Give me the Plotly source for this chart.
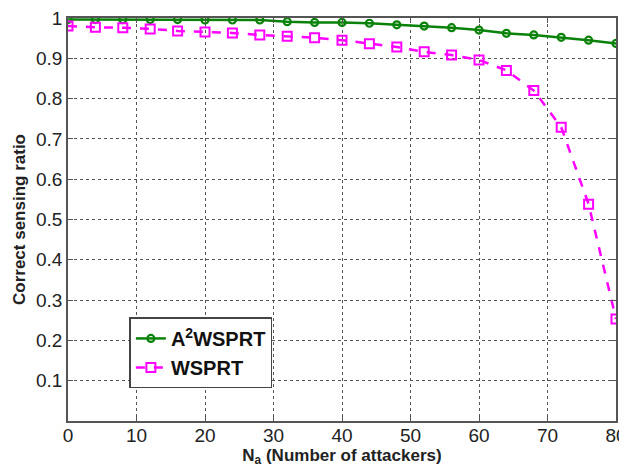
import plotly.graph_objects as go

attackers = [0, 4, 8, 12, 16, 20, 24, 28, 32, 36, 40, 44, 48, 52, 56, 60, 64, 68, 72, 76, 80]
a2wsprt = [0.996, 0.996, 0.996, 0.996, 0.996, 0.995, 0.995, 0.995, 0.991, 0.989, 0.989, 0.987,
           0.983, 0.980, 0.976, 0.970, 0.962, 0.958, 0.952, 0.945, 0.937]
wsprt = [0.980, 0.977, 0.976, 0.973, 0.968, 0.965, 0.963, 0.958, 0.955, 0.951, 0.945, 0.936,
         0.928, 0.916, 0.908, 0.896, 0.870, 0.820, 0.729, 0.538, 0.253]
x_ticks = [0, 10, 20, 30, 40, 50, 60, 70, 80]
y_ticks = [0.1, 0.2, 0.3, 0.4, 0.5, 0.6, 0.7, 0.8, 0.9, 1]
y_ticktext = ["0.1", "0.2", "0.3", "0.4", "0.5", "0.6", "0.7", "0.8", "0.9", "1"]

FONT = "Liberation Sans, Arial, sans-serif"

fig = go.Figure()
fig.add_trace(go.Scatter(
    x=attackers, y=a2wsprt, mode="lines+markers", name="<b>A<sup>2</sup>WSPRT</b>",
    line=dict(color="#0a820a", width=2.5),
    marker=dict(symbol="circle-open", size=7, color="#0a820a", line=dict(width=2.2)),
))
fig.add_trace(go.Scatter(
    x=attackers, y=wsprt, mode="lines+markers", name="<b>WSPRT</b>",
    line=dict(color="#ff00ff", width=2.5, dash="dash"),
    marker=dict(symbol="square-open", size=9, color="#ff00ff", line=dict(width=2)),
))

axis_common = dict(
    showline=True, linecolor="#555555", linewidth=1.5, mirror="ticks",
    ticks="inside", ticklen=5, tickcolor="#555555",
    showgrid=True, gridcolor="#555555", griddash="dot", gridwidth=1,
    zeroline=False, automargin=False, ticklabeloverflow="allow",
    tickfont=dict(family=FONT, size=19, color="#222222"),
)

fig.update_xaxes(range=[0, 80], tickvals=x_ticks, ticklabelstandoff=-4,
                 title=dict(text="<b>N<sub>a</sub> (Number of attackers)</b>",
                            font=dict(family=FONT, size=17, color="#222222"),
                            standoff=0),
                 **axis_common)
fig.update_yaxes(range=[0, 1], tickvals=y_ticks, ticktext=y_ticktext,
                 title=dict(text="<b>Correct sensing ratio</b>",
                            font=dict(family=FONT, size=17, color="#222222"),
                            standoff=6),
                 **axis_common)

fig.update_layout(
    width=619, height=470,
    margin=dict(l=60, r=11, t=10, b=57),
    paper_bgcolor="white", plot_bgcolor="white",
    showlegend=True,
    legend=dict(
        x=0.112, y=0.257, xanchor="left", yanchor="top",
        bgcolor="white", bordercolor="#444444", borderwidth=1.5,
        font=dict(family=FONT, size=20, color="#111111"),
        tracegroupgap=0, itemwidth=30,
    ),
)

fig.write_html("out.html")
